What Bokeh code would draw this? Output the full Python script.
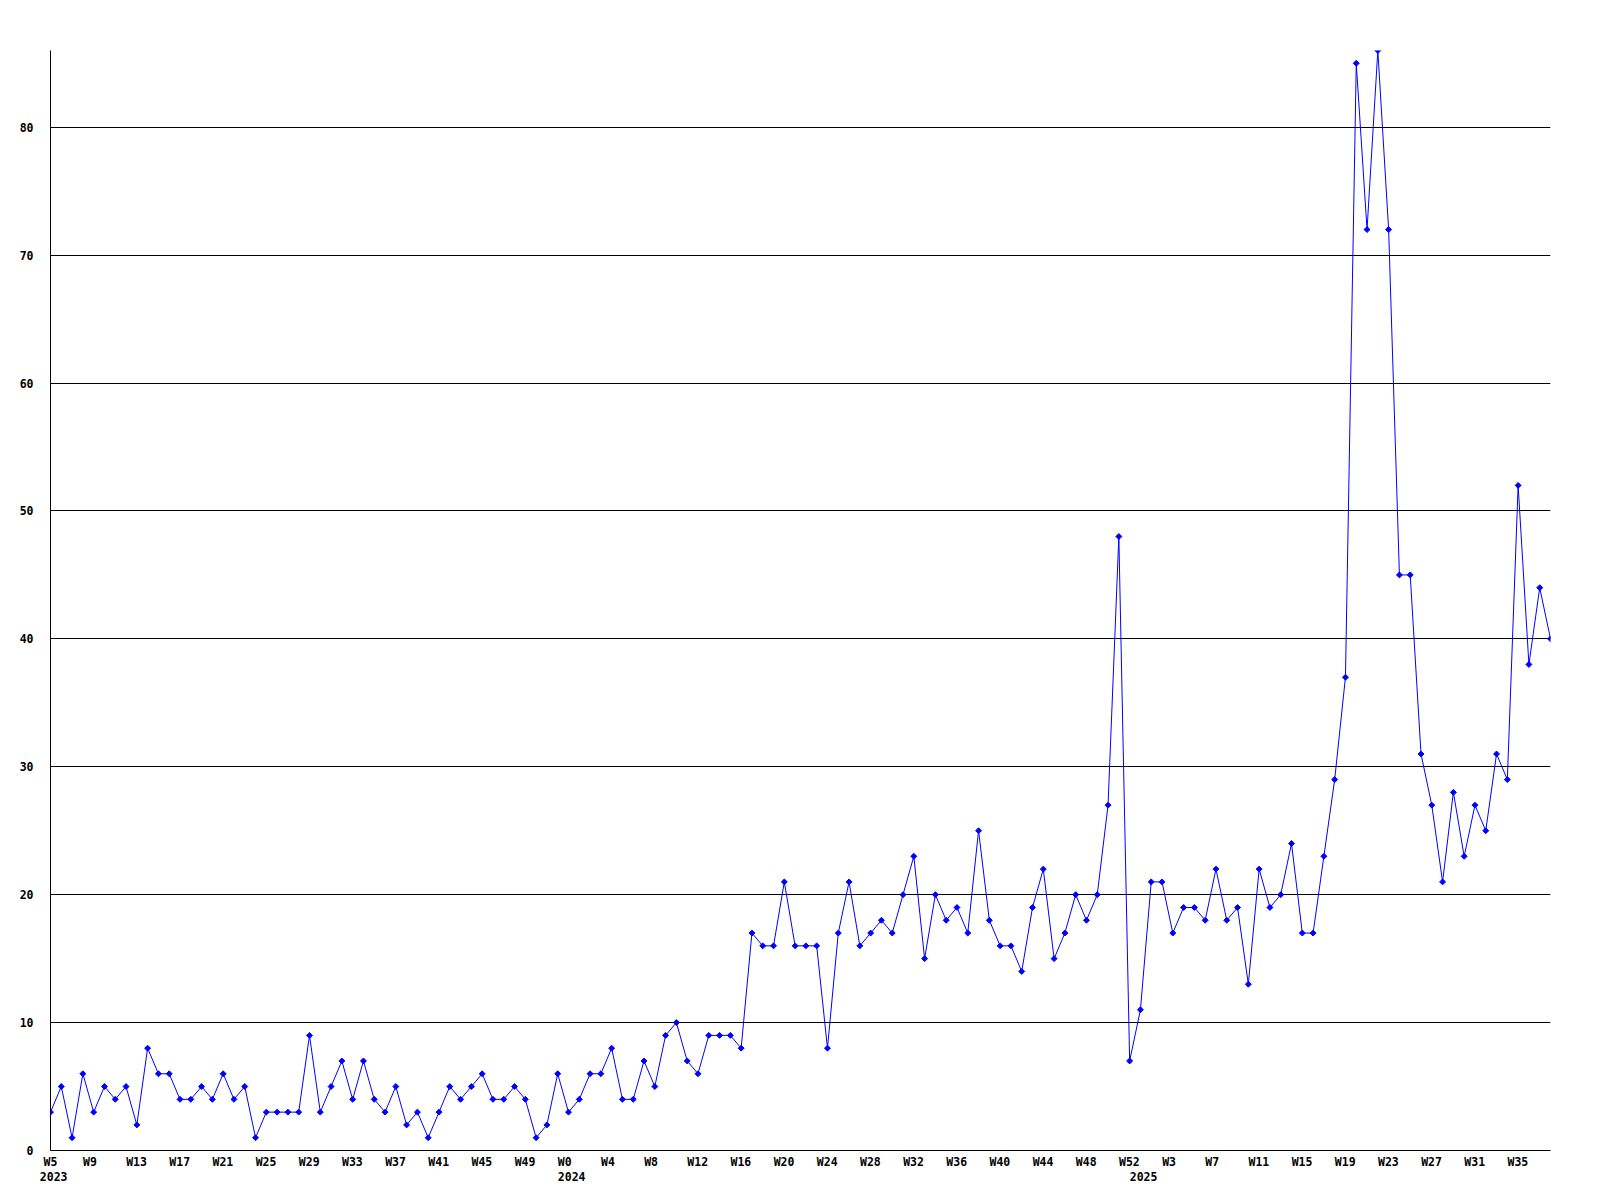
import math
from bokeh.plotting import figure
from bokeh.models import Range1d, FixedTicker, LinearAxis, ColumnDataSource
from bokeh.embed import file_html
from bokeh.resources import INLINE

# ---- data -------------------------------------------------------------
years = ["2023", "2024", "2025"]
weeks_2023 = list(range(5, 53))    # W5 .. W52
weeks_2024 = list(range(0, 53))    # W0 .. W52
weeks_2025 = list(range(0, 39))    # W0 .. W38

values_2023 = [3, 5, 1, 6, 3, 5, 4, 5, 2, 8,
               6, 6, 4, 4, 5, 4, 6, 4, 5, 1,
               3, 3, 3, 3, 9, 3, 5, 7, 4, 7,
               4, 3, 5, 2, 3, 1, 3, 5, 4, 5,
               6, 4, 4, 5, 4, 1, 2, 6]
values_2024 = [3, 4, 6, 6, 8, 4, 4, 7, 5, 9,
               10, 7, 6, 9, 9, 9, 8, 17, 16, 16,
               21, 16, 16, 16, 8, 17, 21, 16, 17, 18,
               17, 20, 23, 15, 20, 18, 19, 17, 25, 18,
               16, 16, 14, 19, 22, 15, 17, 20, 18, 20,
               27, 48, 7]
values_2025 = [11, 21, 21, 17, 19, 19, 18, 22, 18, 19,
               13, 22, 19, 20, 24, 17, 17, 23, 29, 37,
               85, 72, 86, 72, 45, 45, 31, 27, 21, 28,
               23, 27, 25, 31, 29, 52, 38, 44, 40]

y_ticks = [0, 10, 20, 30, 40, 50, 60, 70, 80]
label_every = 4

# ---- assemble -----------------------------------------------------------
weeks = weeks_2023 + weeks_2024 + weeks_2025
values = values_2023 + values_2024 + values_2025
year_of = [years[0]] * len(weeks_2023) + [years[1]] * len(weeks_2024) + [years[2]] * len(weeks_2025)
idx = list(range(len(values)))
n_last = len(values) - 1

FONT = "DejaVu Sans Mono"
FONT_SIZE = "11.5px"
CHAR_W = 6.95            # px per char of the tick font
FRAME_W = 1500
PX_PER_IDX = FRAME_W / n_last
LEFT_PAD = 10.7          # labels start this far left of their point


def label_pos(i, text):
    # labels are left-anchored slightly before their point
    pos = i + (-LEFT_PAD + len(text) * CHAR_W / 2) / PX_PER_IDX
    return round(min(max(pos, 0.0), n_last), 4)


week_ticks, week_over = [], {}
for i in idx:
    if i % label_every == 0:
        t = "W%d" % weeks[i]
        pos = label_pos(i, t)
        week_ticks.append(pos)
        week_over[pos] = t

year_ticks, year_over = [], {}
for i in idx:
    if i == 0 or year_of[i] != year_of[i - 1]:
        pos = label_pos(i, year_of[i])
        year_ticks.append(pos)
        year_over[pos] = year_of[i]

src = ColumnDataSource(dict(x=idx, y=values))

p = figure(width=1592, height=1192, output_backend="svg", toolbar_location=None,
           x_range=Range1d(0, n_last), y_range=Range1d(0, max(values)),
           min_border_left=50, min_border_right=42, min_border_top=50, min_border_bottom=42,
           background_fill_color="white", border_fill_color="white")
p.outline_line_color = None

p.line("x", "y", source=src, line_color="#0000ff", line_width=1)
p.scatter("x", "y", source=src, marker="square", size=4.2, angle=math.pi / 4,
          fill_color="#0000ff", line_color="#0000ff", line_width=1)

# grid
p.xgrid.visible = False
p.ygrid.ticker = FixedTicker(ticks=y_ticks)
p.ygrid.grid_line_color = "black"
p.ygrid.grid_line_width = 1

# y axis
ya = p.yaxis[0]
ya.ticker = FixedTicker(ticks=y_ticks)
ya.major_tick_line_color = None
ya.minor_tick_line_color = None
ya.major_tick_out = 0
ya.major_tick_in = 0
ya.major_label_standoff = 17
ya.axis_line_color = "black"
ya.major_label_text_font = FONT
ya.major_label_text_font_size = FONT_SIZE
ya.major_label_text_font_style = "bold"
ya.major_label_text_color = "black"

# x axis (weeks)
xa = p.xaxis[0]
xa.ticker = FixedTicker(ticks=week_ticks)
xa.major_label_overrides = week_over
xa.major_tick_line_color = None
xa.minor_tick_line_color = None
xa.major_tick_out = 0
xa.major_tick_in = 0
xa.major_label_standoff = 4
xa.axis_line_color = "black"
xa.major_label_text_font = FONT
xa.major_label_text_font_size = FONT_SIZE
xa.major_label_text_font_style = "bold"
xa.major_label_text_color = "black"

# x axis (years), second row
xa2 = LinearAxis(ticker=FixedTicker(ticks=year_ticks), major_label_overrides=year_over)
xa2.axis_line_color = None
xa2.major_tick_line_color = None
xa2.minor_tick_line_color = None
xa2.major_tick_out = 0
xa2.major_tick_in = 0
xa2.major_label_standoff = 0
xa2.major_label_text_font = FONT
xa2.major_label_text_font_size = FONT_SIZE
xa2.major_label_text_font_style = "bold"
xa2.major_label_text_color = "black"
p.add_layout(xa2, "below")

open("out.html", "w").write(file_html(p, INLINE))
